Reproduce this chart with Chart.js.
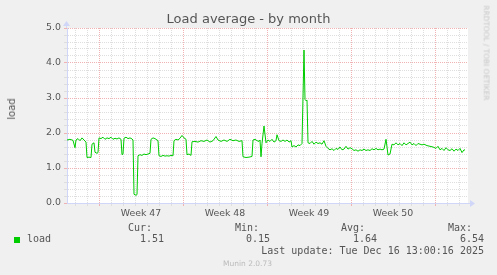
<!DOCTYPE html>
<html>
<head>
<meta charset="utf-8">
<script src="https://cdn.jsdelivr.net/npm/chart.js@4"></script>
<style>
    body { margin: 0; background: #f0f0f0; }
    #wrap { position: relative; width: 497px; height: 275px; background: #f0f0f0; overflow: hidden; font-family: 'DejaVu Sans', sans-serif; color: #555; }
    #wrap canvas { position: absolute; left: 0; top: 0; }
    .txt { position: absolute; white-space: nowrap; }
    .mono { font-family: 'DejaVu Sans Mono', monospace; font-size: 10px; line-height: 12px; color: #555; }
    .rot { line-height: 1; transform: translate(-50%, -50%) rotate(-90deg); }
</style>
</head>
<body>
<div id="wrap">
    <canvas id="loadChart" width="497" height="275"></canvas>
    <div class="txt" style="left:0; width:497px; top:11px; line-height:16px; font-size:13px; text-align:center;">Load average - by month</div>
    <div class="txt rot" style="left:12px; top:109px; font-size:10px;">load</div>
    <div class="txt" style="left:486px; top:52.5px; font-size:7.4px; line-height:1; color:#c8c8c8; transform: translate(-50%, -50%) rotate(90deg);">RRDTOOL / TOBI OETIKER</div>

    <div class="txt mono" style="right:345px; top:221.7px;">Cur:</div>
    <div class="txt mono" style="right:238px; top:221.7px;">Min:</div>
    <div class="txt mono" style="right:132px; top:221.7px;">Avg:</div>
    <div class="txt mono" style="right:25px; top:221.7px;">Max:</div>

    <div class="txt" style="left:14px; top:237px; width:6px; height:6px; background:#00cc00;"></div>
    <div class="txt mono" style="left:27px; top:233.3px;">load</div>
    <div class="txt mono" style="right:333px; top:233.3px;">1.51</div>
    <div class="txt mono" style="right:227px; top:233.3px;">0.15</div>
    <div class="txt mono" style="right:120px; top:233.3px;">1.64</div>
    <div class="txt mono" style="right:13px; top:233.3px;">6.54</div>

    <div class="txt mono" style="right:13px; top:245.3px;">Last update: Tue Dec 16 13:00:16 2025</div>
    <div class="txt" style="left:0; width:495px; top:259px; line-height:10px; font-size:7.5px; text-align:center; color:#bbb;">Munin 2.0.73</div>
</div>

<script>
// hours since start of graph (one rrd step = 2h)
const hours = [
    0, 6, 12, 16, 18, 22, 26, 30, 34, 38, 40, 44, 48, 50, 54, 56, 60, 62,
    64, 68, 72, 76, 80, 84, 88, 92, 96, 100, 104, 108, 110, 112, 114, 118, 122, 126, 130, 132,
    134, 138, 140, 142, 146, 150, 154, 158, 162, 166, 168, 172, 176, 180, 182,
    184, 188, 192, 196, 200, 204, 208, 212, 214, 218, 222, 226, 230, 234, 238, 240, 244, 248,
    250, 256, 262, 268, 274, 280, 286, 292, 298, 302, 308, 314, 320, 326, 332, 338, 344, 350,
    352, 358, 364, 370, 372, 376, 380, 384, 386, 388, 390, 394, 398,
    402, 406, 410, 414, 418, 420, 424, 428, 432, 436, 440, 444, 448, 450, 454, 458, 462, 466, 470,
    474, 476, 478, 480, 482, 486, 490, 494, 498, 502, 506, 510, 514,
    518, 522, 526, 530, 534, 538, 542, 546, 550, 554, 558, 562, 566, 570, 574, 578, 582, 586, 590,
    594, 598, 602, 606, 610, 614, 618, 622, 626, 630, 634, 638, 640, 642, 646,
    650, 654, 658, 662, 666, 670, 674, 678, 682, 686, 690, 694, 698, 702, 706, 710, 714, 720, 726, 732,
    738, 742, 746, 750, 754, 758, 762, 766, 770, 774, 778, 782, 786, 790, 794, 796
];

const load = [
    1.80, 1.82, 1.79, 1.58, 1.80, 1.84, 1.78, 1.86, 1.80, 1.74, 1.30, 1.31, 1.30, 1.68, 1.72, 1.45, 1.42, 1.44,
    1.86, 1.84, 1.88, 1.82, 1.86, 1.84, 1.88, 1.82, 1.85, 1.83, 1.86, 1.82, 1.38, 1.40, 1.85, 1.88, 1.84, 1.86, 1.83, 1.80,
    0.25, 0.22, 0.24, 1.35, 1.38, 1.36, 1.40, 1.38, 1.40, 1.42, 1.82, 1.86, 1.84, 1.80, 1.78,
    1.35, 1.33, 1.36, 1.34, 1.35, 1.34, 1.36, 1.35, 1.78, 1.82, 1.80, 1.85, 1.93, 1.86, 1.82, 1.38, 1.40, 1.36,
    1.75, 1.76, 1.74, 1.78, 1.76, 1.80, 1.74, 1.78, 1.90, 1.80, 1.76, 1.80, 1.76, 1.82, 1.78, 1.80, 1.76, 1.78,
    1.32, 1.30, 1.31, 1.33, 1.80, 1.82, 1.78, 1.76, 1.80, 1.32, 1.70, 2.20, 1.72,
    1.80, 1.76, 1.82, 1.74, 1.78, 1.95, 1.78, 1.76, 1.80, 1.76, 1.80, 1.74, 1.78, 1.60, 1.64, 1.60, 1.66, 1.64, 1.70,
    4.37, 2.96, 2.92, 2.94, 1.72, 1.70, 1.76, 1.68, 1.74, 1.70, 1.72, 1.68, 1.78,
    1.62, 1.56, 1.52, 1.55, 1.50, 1.56, 1.53, 1.60, 1.52, 1.54, 1.62, 1.54, 1.58, 1.55, 1.50, 1.52, 1.48, 1.52, 1.50,
    1.54, 1.50, 1.52, 1.50, 1.55, 1.52, 1.56, 1.52, 1.54, 1.52, 1.54, 1.82, 1.60, 1.37, 1.40,
    1.68, 1.66, 1.72, 1.66, 1.70, 1.64, 1.72, 1.66, 1.70, 1.74, 1.66, 1.70, 1.64, 1.70, 1.68, 1.66, 1.68, 1.64, 1.62, 1.60,
    1.56, 1.62, 1.52, 1.56, 1.50, 1.58, 1.52, 1.50, 1.55, 1.48, 1.54, 1.50, 1.56, 1.44, 1.52, 1.51
];

// x axis: week boundaries (red), daily lines (grey), week labels centred in each week
const weekStarts = [64, 232, 400, 568, 736];
const weekCentres = [148, 316, 484, 652];
const weekLabels = ['Week 47', 'Week 48', 'Week 49', 'Week 50'];
const dayLines = Array.from({length: 33}, (_, i) => 16 + i * 24);

const yLabels = ['0.0', '1.0', '2.0', '3.0', '4.0', '5.0'];

const MINOR = '#dedede';
const MAJOR = '#f0b2b2';
const AXIS = '#cfd6f8';
const tickFont = { family: 'DejaVu Sans', size: 9.4 };

const munin = {
    id: 'munin',
    beforeDraw(chart) {
        const { ctx, chartArea: a } = chart;
        ctx.save();
        ctx.fillStyle = '#ffffff';
        ctx.fillRect(a.left, a.top, a.right - a.left, a.bottom - a.top);
        ctx.restore();
    },
    afterDraw(chart) {
        const { ctx, chartArea: a } = chart;
        ctx.save();
        ctx.fillStyle = AXIS;
        ctx.strokeStyle = AXIS;
        ctx.lineWidth = 1;
        // axis extensions + arrows
        ctx.beginPath();
        ctx.moveTo(a.right, a.bottom + 0.5);
        ctx.lineTo(a.right + 5, a.bottom + 0.5);
        ctx.stroke();
        ctx.beginPath();
        ctx.moveTo(a.right + 2, a.bottom - 3);
        ctx.lineTo(a.right + 7, a.bottom + 0.5);
        ctx.lineTo(a.right + 2, a.bottom + 4);
        ctx.fill();
        ctx.beginPath();
        ctx.moveTo(a.left - 0.5, a.top);
        ctx.lineTo(a.left - 0.5, a.top - 4);
        ctx.stroke();
        ctx.beginPath();
        ctx.moveTo(a.left - 4, a.top - 2);
        ctx.lineTo(a.left - 0.5, a.top - 7);
        ctx.lineTo(a.left + 3, a.top - 2);
        ctx.fill();
        ctx.restore();
    }
};

new Chart(document.getElementById('loadChart'), {
    type: 'line',
    data: {
        datasets: [{
            label: 'load',
            data: hours.map((h, i) => ({ x: h, y: load[i] })),
            borderColor: '#00cc00',
            borderWidth: 1,
            pointRadius: 0,
            tension: 0,
            fill: false
        }]
    },
    options: {
        responsive: false,
        animation: false,
        devicePixelRatio: 1,
        layout: { padding: { left: 0, top: 28, right: 29, bottom: 52 } },
        plugins: {
            legend: { display: false },
            tooltip: { enabled: false }
        },
        scales: {
            x: {
                type: 'linear',
                min: 0,
                max: 802,
                afterFit: (scale) => { scale.height = 20; },
                afterBuildTicks: (scale) => {
                    scale.ticks = [...dayLines, ...weekCentres].sort((a, b) => a - b).map(v => ({ value: v }));
                },
                grid: {
                    color: (ctx) => {
                        const v = ctx.tick ? ctx.tick.value : null;
                        if (weekCentres.includes(v)) return 'rgba(0,0,0,0)';
                        return weekStarts.includes(v) ? MAJOR : MINOR;
                    },
                    tickLength: 3
                },
                border: { display: true, color: AXIS, dash: [1, 1] },
                ticks: {
                    autoSkip: false,
                    maxRotation: 0,
                    padding: 2,
                    color: '#555',
                    font: tickFont,
                    callback: (value) => {
                        const i = weekCentres.indexOf(value);
                        return i >= 0 ? weekLabels[i] : '';
                    }
                }
            },
            y: {
                min: 0,
                max: 5,
                afterFit: (scale) => { scale.width = 67; },
                afterBuildTicks: (scale) => {
                    scale.ticks = Array.from({length: 26}, (_, i) => ({ value: i / 5 }));
                },
                grid: {
                    color: (ctx) => {
                        const v = ctx.tick ? ctx.tick.value : 0;
                        return Math.abs(v - Math.round(v)) < 1e-6 ? MAJOR : MINOR;
                    },
                    tickLength: 3
                },
                border: { display: true, color: AXIS, dash: [1, 1] },
                ticks: {
                    autoSkip: false,
                    padding: 3,
                    color: '#555',
                    font: tickFont,
                    callback: (value) => {
                        const r = Math.round(value);
                        return Math.abs(value - r) < 1e-6 ? yLabels[r] : '';
                    }
                }
            }
        }
    },
    plugins: [munin]
});
</script>
</body>
</html>
